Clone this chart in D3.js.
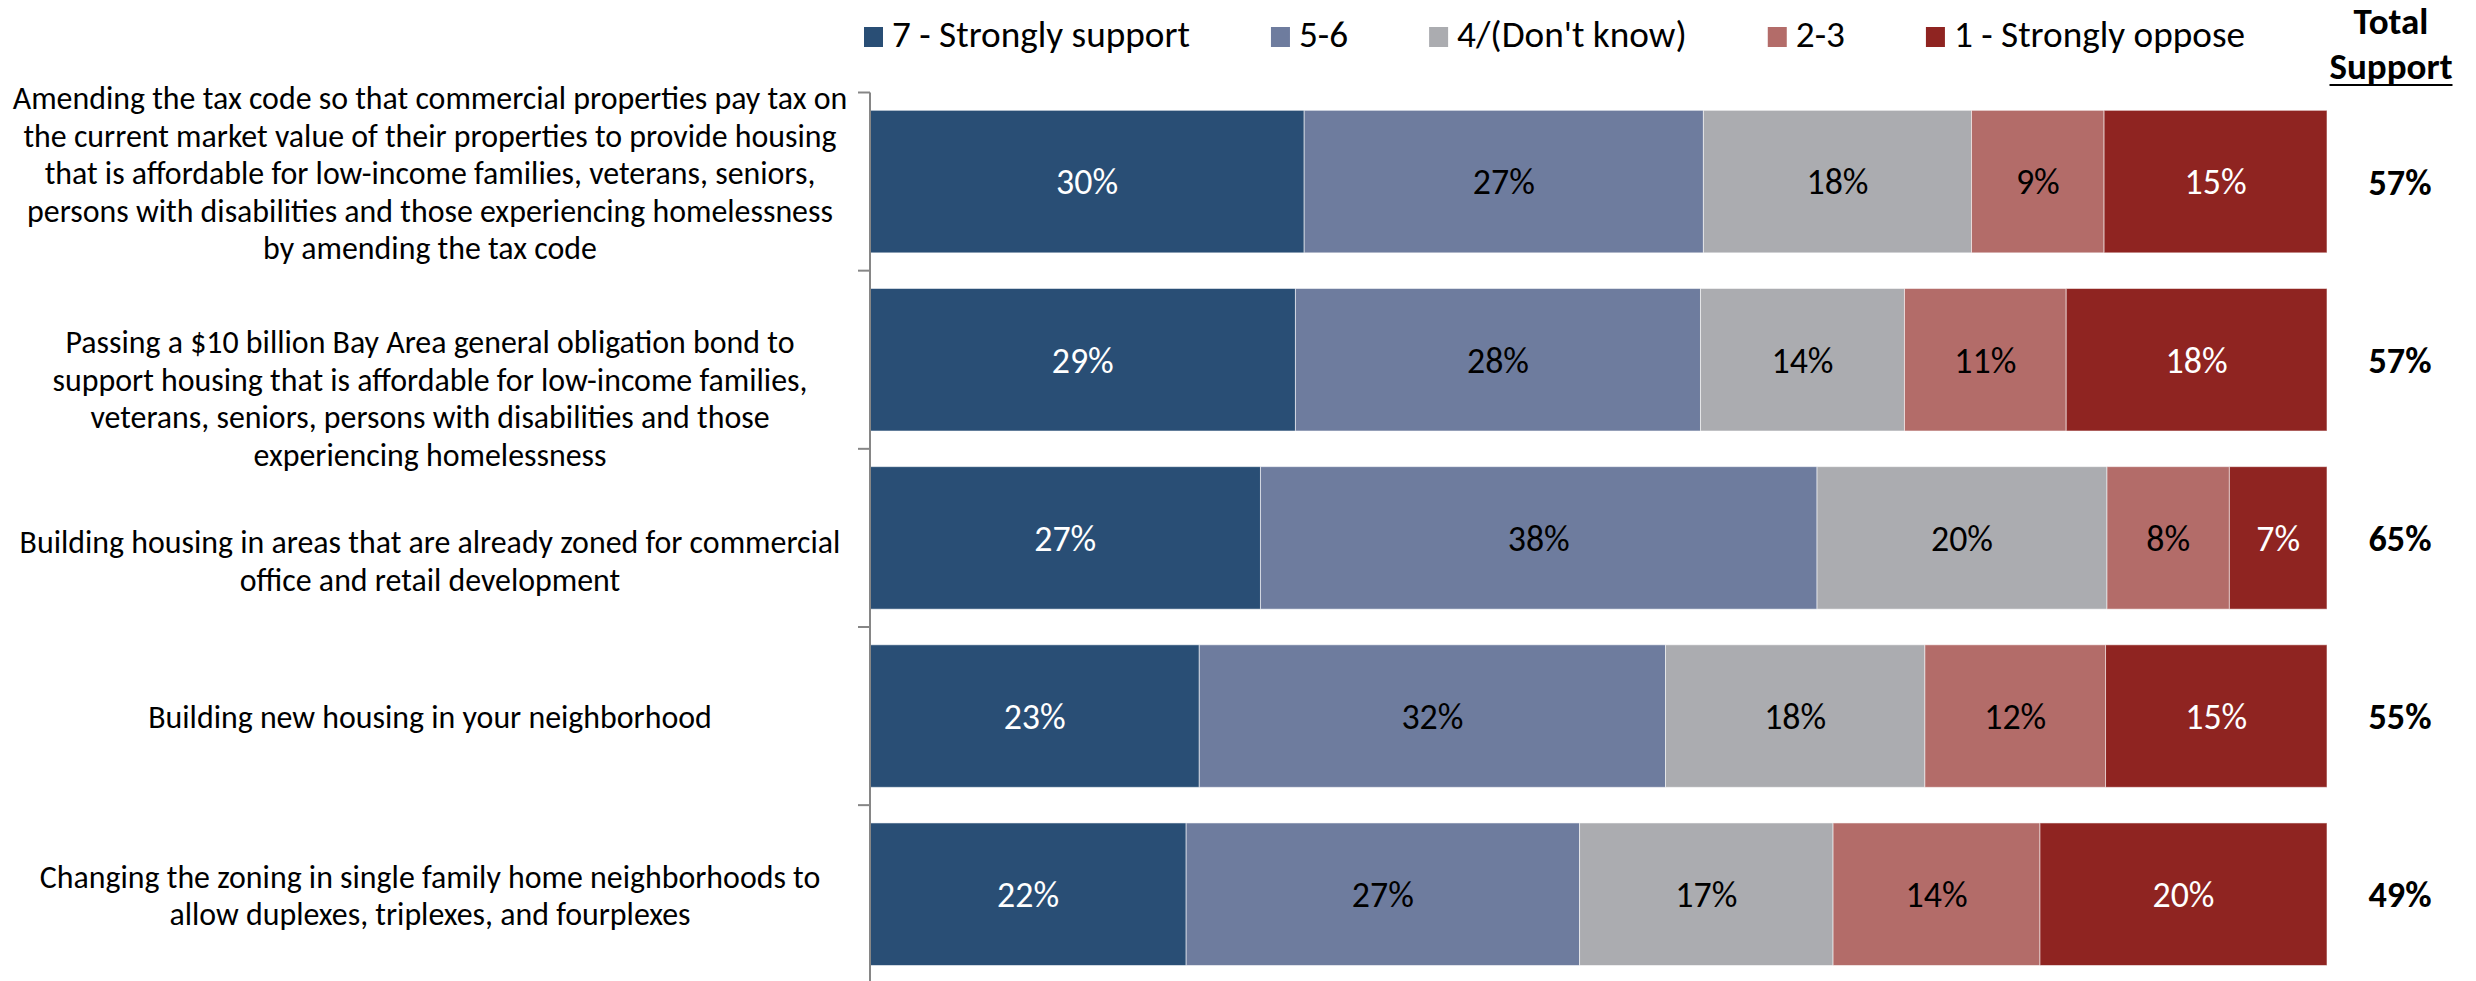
<!DOCTYPE html>
<html>
<head>
<meta charset="utf-8">
<script src="https://cdn.jsdelivr.net/npm/d3@7"></script>
<style>
  html, body { margin: 0; padding: 0; background: #fff; }
  svg { display: block; }
</style>
</head>
<body>
<svg id="chart" width="2476" height="981"></svg>
<script>
// ---------------- DATA ----------------
const categories = [
  "Amending the tax code so that commercial properties pay tax on the current market value of their properties to provide housing that is affordable for low-income families, veterans, seniors, persons with disabilities and those experiencing homelessness by amending the tax code",
  "Passing a $10 billion Bay Area general obligation bond to support housing that is affordable for low-income families, veterans, seniors, persons with disabilities and those experiencing homelessness",
  "Building housing in areas that are already zoned for commercial office and retail development",
  "Building new housing in your neighborhood",
  "Changing the zoning in single family home neighborhoods to allow duplexes, triplexes, and fourplexes"
];
const categoryLines = [
  ["Amending the tax code so that commercial properties pay tax on",
   "the current market value of their properties to provide housing",
   "that is affordable for low-income families, veterans, seniors,",
   "persons with disabilities and those experiencing homelessness",
   "by amending the tax code"],
  ["Passing a $10 billion Bay Area general obligation bond to",
   "support housing that is affordable for low-income families,",
   "veterans, seniors, persons with disabilities and those",
   "experiencing homelessness"],
  ["Building housing in areas that are already zoned for commercial",
   "office and retail development"],
  ["Building new housing in your neighborhood"],
  ["Changing the zoning in single family home neighborhoods to",
   "allow duplexes, triplexes, and fourplexes"]
];
const seriesNames = ["7 - Strongly support", "5-6", "4/(Don't know)", "2-3", "1 - Strongly oppose"];
const strongSupport = [29.8, 29.2, 26.8, 22.6, 21.7];
const support56     = [27.4, 27.8, 38.2, 32.0, 27.0];
const dontKnow      = [18.4, 14.0, 19.9, 17.8, 17.4];
const oppose23      = [9.1, 11.1, 8.4, 12.4, 14.2];
const strongOppose  = [15.3, 17.9, 6.7, 15.2, 19.7];
const totalSupport  = [57, 57, 65, 55, 49];
const totalHeader   = ["Total", "Support"];

// ---------------- STYLE ----------------
const colors = ["#294E75", "#6E7C9E", "#ABACB0", "#B36C69", "#8F2421"];
const labelColors = ["#ffffff", "#000000", "#000000", "#000000", "#ffffff"];
const FONT = "Carlito, Lato, 'Open Sans', 'DejaVu Sans', sans-serif";

const svg = d3.select("#chart");
svg.append("rect").attr("width", 2476).attr("height", 981).attr("fill", "#fff");

// fit a font size so that a reference string has the target width
function fitSize(text, target, weight) {
  const t = svg.append("text").attr("font-family", FONT).attr("font-size", 40)
    .attr("font-weight", weight || "normal").text(text);
  const w = t.node().getComputedTextLength();
  t.remove();
  return 40 * target / w;
}
const catSize   = fitSize("Changing the zoning in single family home neighborhoods to", 781);
const legSize   = fitSize("7 - Strongly support", 298);
const valSize   = fitSize("30%", 62);
const totSize   = fitSize("57%", 63, "bold");
const headSize  = fitSize("Support", 123, "bold");

// ---------------- SCALES ----------------
const seriesArrays = [strongSupport, support56, dontKnow, oppose23, strongOppose];
const rows = categories.map((c, i) => {
  const o = { cat: c };
  seriesNames.forEach((s, j) => o[s] = seriesArrays[j][i]);
  return o;
});
const stacked = d3.stack().keys(seriesNames)(rows);

const x = d3.scaleLinear().domain([0, 100]).range([870, 2327]);
const y = d3.scaleBand().domain(categories).range([92.5, 983.3])
  .paddingInner(0.2).paddingOuter(0.1);

// ---------------- BARS ----------------
const layers = svg.append("g").selectAll("g").data(stacked).join("g")
  .attr("fill", (d, i) => colors[i]);
layers.selectAll("rect").data(d => d).join("rect")
  .attr("x", d => x(d[0]))
  .attr("y", d => y(d.data.cat))
  .attr("width", d => x(d[1]) - x(d[0]))
  .attr("height", y.bandwidth())
  .attr("stroke", "rgba(255,255,255,0.55)")
  .attr("stroke-width", 1);

// value labels
const fmt = v => Math.round(v) + "%";
svg.append("g").selectAll("g").data(stacked).join("g")
  .attr("fill", (d, i) => labelColors[i])
  .selectAll("text").data(d => d).join("text")
  .attr("x", d => (x(d[0]) + x(d[1])) / 2)
  .attr("y", d => y(d.data.cat) + y.bandwidth() / 2)
  .attr("dy", "0.36em")
  .attr("text-anchor", "middle")
  .attr("font-family", FONT)
  .attr("font-size", valSize)
  .text(d => fmt(d[1] - d[0]));

// ---------------- AXIS ----------------
const axis = svg.append("g").attr("stroke", "#868686").attr("stroke-width", 2);
const step = y.step();
const boundaries = categories.map(c => y(c) - step * y.paddingInner() / 2);
boundaries.push(y(categories[categories.length - 1]) + y.bandwidth() + step * y.paddingInner() / 2);
axis.append("line").attr("x1", x(0)).attr("x2", x(0))
  .attr("y1", boundaries[0]).attr("y2", 981);
axis.selectAll("line.tick").data(boundaries).join("line").attr("class", "tick")
  .attr("x1", x(0) - 12).attr("x2", x(0))
  .attr("y1", d => d).attr("y2", d => d);

// ---------------- CATEGORY LABELS ----------------
const lineH = 37.5;
const labelNudge = [-9.7, 37.5, 22, 0, 0];
const catG = svg.append("g").attr("font-family", FONT).attr("font-size", catSize)
  .attr("fill", "#000").attr("text-anchor", "middle");
categoryLines.forEach((lines, i) => {
  const cy = y(categories[i]) + y.bandwidth() / 2;
  const first = cy - (lines.length - 1) / 2 * lineH + 12.3 + labelNudge[i];
  const t = catG.append("text");
  lines.forEach((ln, k) => {
    t.append("tspan").attr("x", 430).attr("y", first + k * lineH).text(ln);
  });
});

// ---------------- TOTALS ----------------
svg.append("g").selectAll("text").data(totalSupport).join("text")
  .attr("x", 2400)
  .attr("y", (d, i) => y(categories[i]) + y.bandwidth() / 2)
  .attr("dy", "0.36em")
  .attr("text-anchor", "middle")
  .attr("font-family", FONT).attr("font-weight", "bold")
  .attr("font-size", totSize)
  .text(d => d + "%");

const hdr = svg.append("g").attr("font-family", FONT).attr("font-weight", "bold")
  .attr("font-size", headSize).attr("text-anchor", "middle").attr("fill", "#000");
hdr.append("text").attr("x", 2391).attr("y", 34.3).text(totalHeader[0]);
const sup = hdr.append("text").attr("x", 2391).attr("y", 79.3).text(totalHeader[1]);
const sw = sup.node().getComputedTextLength();
hdr.append("line").attr("x1", 2391 - sw / 2).attr("x2", 2391 + sw / 2)
  .attr("y1", 85).attr("y2", 85).attr("stroke", "#000").attr("stroke-width", 2.2);

// ---------------- LEGEND ----------------
const leg = svg.append("g").attr("font-family", FONT).attr("font-size", legSize);
let lx = 864;
seriesNames.forEach((s, i) => {
  leg.append("rect").attr("x", lx).attr("y", 27).attr("width", 19).attr("height", 20)
    .attr("fill", colors[i]);
  const t = leg.append("text").attr("x", lx + 28).attr("y", 47.3).attr("fill", "#000").text(s);
  lx += 28 + t.node().getComputedTextLength() + 81;
});
</script>
</body>
</html>
